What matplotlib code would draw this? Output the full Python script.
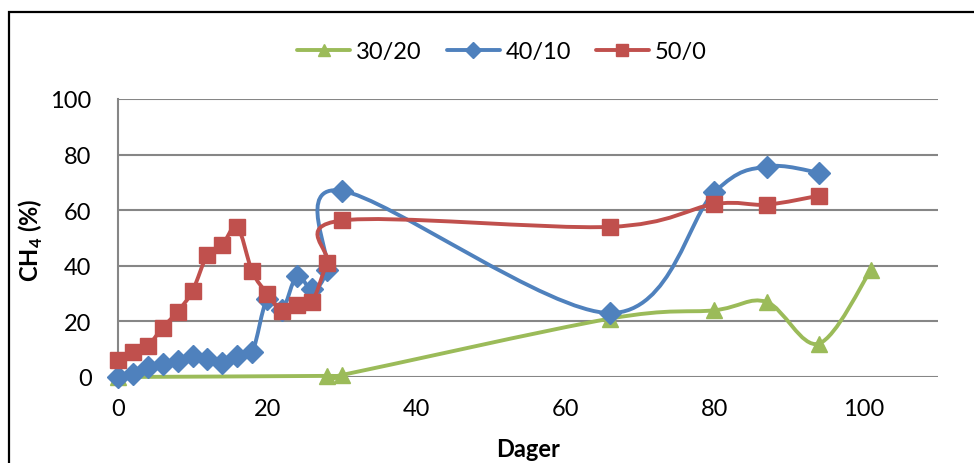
import numpy as np
import matplotlib
matplotlib.use("Agg")
import matplotlib.pyplot as plt
from matplotlib.path import Path
from matplotlib.patches import PathPatch, Rectangle
from matplotlib.lines import Line2D

plt.rcParams['font.family'] = ['Lato', 'DejaVu Sans']
plt.rcParams['mathtext.fontset'] = 'custom'
plt.rcParams['mathtext.rm'] = 'Lato'
plt.rcParams['mathtext.bf'] = 'Lato:bold'

# CH4 content (%) per day for each mix
days_30_20 = [0, 28, 30, 66, 80, 87, 94, 101]
ch4_30_20 = [0, 0.4, 0.7, 21, 24, 27, 12, 38.5]

days_40_10 = [0, 2, 4, 6, 8, 10, 12, 14, 16, 18, 20, 22, 24, 26, 28, 30, 66, 80, 87, 94]
ch4_40_10 = [0, 1.1, 3.5, 4.7, 5.9, 7.7, 6.5, 4.9, 7.7, 8.9, 28, 24, 36.5, 31.5,
             38.5, 67, 23, 66.5, 75.7, 73.5]

days_50_0 = [0, 2, 4, 6, 8, 10, 12, 14, 16, 18, 20, 22, 24, 26, 28, 30, 66, 80, 87, 94]
ch4_50_0 = [6, 9, 11.3, 17.8, 23.5, 31, 44, 47.6, 54, 38, 30, 23.8, 26, 27,
            41, 56.3, 54, 62.2, 62, 65.2]

labels = ['30/20', '40/10', '50/0']
colors = ['#9BBB59', '#4F81BD', '#C0504D']
markers = ['^', 'D', 's']
msizes = [12, 11, 11]


def smooth_path(x, y):
    # cubic bezier through the points (catmull-rom style tangents)
    p = np.column_stack([x, y]).astype(float)
    ext = np.vstack([p[0], p, p[-1]])
    verts = [p[0]]
    codes = [Path.MOVETO]
    for i in range(len(p) - 1):
        p0, p1, p2, p3 = ext[i], ext[i + 1], ext[i + 2], ext[i + 3]
        verts += [p1 + (p2 - p0) / 6.0, p2 - (p3 - p1) / 6.0, p2]
        codes += [Path.CURVE4] * 3
    return Path(verts, codes)


fig = plt.figure(figsize=(9.74, 4.64), dpi=100)
ax = fig.add_axes([118 / 974, 1 - 378 / 464, 820 / 974, 278 / 464])

series = [(days_30_20, ch4_30_20), (days_40_10, ch4_40_10), (days_50_0, ch4_50_0)]
handles = []
for k, (x, y) in enumerate(series):
    patch = PathPatch(smooth_path(x, y), facecolor='none', edgecolor=colors[k],
                      lw=2.8, capstyle='round', joinstyle='round', zorder=3 + 2 * k,
                      clip_on=False)
    ax.add_patch(patch)
    ax.plot(x, y, linestyle='none', marker=markers[k], ms=msizes[k],
            color=colors[k], mec=colors[k], zorder=4 + 2 * k, clip_on=False)
    handles.append(Line2D([], [], color=colors[k], lw=2.8, marker=markers[k],
                          ms=msizes[k] * 0.75, solid_capstyle='round'))

ax.set_xlim(0, 110)
ax.set_ylim(0, 100)
ax.set_xticks([0, 20, 40, 60, 80, 100])
ax.set_yticks([0, 20, 40, 60, 80, 100])
ax.grid(axis='y', color='#868686', lw=1.5, zorder=1)
ax.set_axisbelow(True)
for s in ['top', 'right', 'bottom']:
    ax.spines[s].set_visible(False)
ax.spines['left'].set_color('#868686')
ax.spines['left'].set_linewidth(1.5)
ax.tick_params(axis='both', length=0, labelsize=17)
ax.tick_params(axis='y', pad=19)
ax.tick_params(axis='x', pad=15)

fig.text(31 / 974, 1 - 240 / 464, r'CH$_\mathbf{4}$ (%)', rotation=90,
         ha='center', va='center', fontsize=17, fontweight='bold')
fig.text(528 / 974, 1 - 450 / 464, 'Dager', ha='center', va='center',
         fontsize=17, fontweight='bold')

fig.legend(handles, labels, loc='center', bbox_to_anchor=(502 / 974, 1 - 53 / 464),
           ncol=3, frameon=False, fontsize=17, handlelength=2.25,
           columnspacing=1.05, handletextpad=0.25)

# outer chart border
fig.add_artist(Rectangle((9 / 974, -0.2), 1.2, 1.2 - 13 / 464, transform=fig.transFigure,
                         fill=False, ec='black', lw=1.6))

fig.savefig('out.png', dpi=100)
